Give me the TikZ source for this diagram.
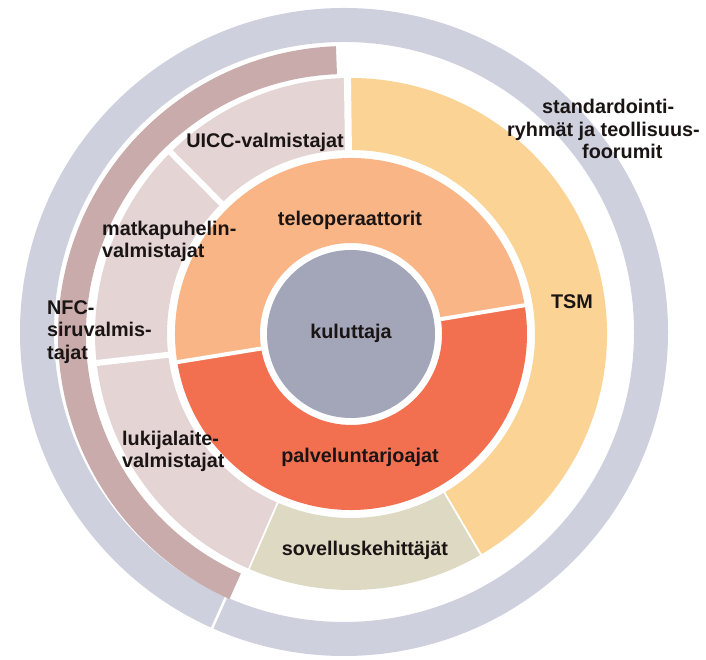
\documentclass[tikz,border=0pt]{standalone}
\usepackage{fontspec}
\setmainfont{Liberation Sans}
\usetikzlibrary{calc}

% ring colours
\definecolor{ringgray}{HTML}{CED1DD}
\definecolor{nfcrose}{HTML}{C9ABAB}
\definecolor{makerpink}{HTML}{E4D4D4}
\definecolor{tsmyellow}{HTML}{FBD495}
\definecolor{devbeige}{HTML}{DDD9C2}
\definecolor{operorange}{HTML}{F9B585}
\definecolor{provred}{HTML}{F27050}
\definecolor{coreslate}{HTML}{A3A6B8}
\definecolor{labelink}{HTML}{1A1414}

% annular sector: centre, start angle, end angle, inner radius, outer radius, style
\newcommand{\ringpiece}[6]{%
  \fill[#6] ($(#1)+(#2:#5)$) arc[start angle=#2, end angle=#3, radius=#5]
    -- ($(#1)+(#3:#4)$) arc[start angle=#3, end angle=#2, radius=#4] -- cycle;}
% white radial cut: centre, angle, inner radius, outer radius, width
\newcommand{\ringcut}[5]{%
  \draw[white, line width=#5] ($(#1)+(#2:#3)$) -- ($(#1)+(#2:#4)$);}

\begin{document}
\begin{tikzpicture}[x=1pt, y=1pt,
  label/.style={font=\fontsize{19.8}{22.5}\selectfont\bfseries, text=labelink, inner sep=0pt},
  leftlabel/.style={label, align=left, anchor=west}]
\useasboundingbox[fill=white] (0,0) rectangle (706,660);

\coordinate (G) at (344,328);   % outer grey ring
\coordinate (M) at (347,325);   % NFC chip ring
\coordinate (C) at (351,326);   % inner rings and core

% outer grey ring with its single cut
\fill[ringgray, even odd rule] (G) circle[radius=324pt] (G) circle[radius=290pt];
\ringcut{G}{246}{286pt}{328pt}{2.5pt}

% NFC chip makers
\ringpiece{M}{92.2}{246}{261pt}{289pt}{nfcrose}

% middle ring
\ringpiece{C}{-59.5}{90.8}{184pt}{256pt}{tsmyellow}
\ringpiece{C}{90.8}{134.8}{184pt}{256pt}{makerpink}
\ringpiece{C}{134.8}{186.5}{184pt}{256pt}{makerpink}
\ringpiece{C}{186.5}{246.5}{184pt}{256pt}{makerpink}
\ringpiece{C}{246.5}{300.5}{184pt}{256pt}{devbeige}
\ringcut{C}{90.8}{180pt}{260pt}{7pt}
\ringcut{C}{134.8}{180pt}{260pt}{6pt}
\ringcut{C}{186.5}{180pt}{260pt}{6pt}
\ringcut{C}{246.5}{180pt}{260pt}{1.8pt}
\ringcut{C}{300.5}{180pt}{260pt}{1.8pt}

% operators and service providers
\ringpiece{C}{9.4}{189.2}{91pt}{176pt}{operorange}
\ringpiece{C}{189.2}{369.4}{91pt}{176pt}{provred}
\ringcut{C}{9.4}{88pt}{180pt}{4pt}
\ringcut{C}{189.2}{88pt}{180pt}{4pt}

% consumer core
\fill[coreslate] (C) circle[radius=84pt];

% labels
\node[label] (kuluttaja) at (351,327) {kuluttaja};
\node[label] (teleop) at (350,440) {teleoperaattorit};
\node[label] (palvelu) at (360,203) {palveluntarjoajat};
\node[label] (uicc) at (265,518) {UICC-valmistajat};
\node[leftlabel] (matka) at (102,418.5) {matkapuhelin-\\valmistajat};
\node[leftlabel] (lukija) at (122,208.5) {lukijalaite-\\valmistajat};
\node[leftlabel] (nfc) at (47,328) {NFC-\\siruvalmis-\\tajat};
\node[label] (sovellus) at (365,110) {sovelluskehittäjät};
\node[label] (tsm) at (572,358) {TSM};
\node[leftlabel] (standard) at (507,531)
  {\hspace*{35pt}standardointi-\\ryhmät ja teollisuus-\\\hspace*{75pt}foorumit};
\end{tikzpicture}
\end{document}
